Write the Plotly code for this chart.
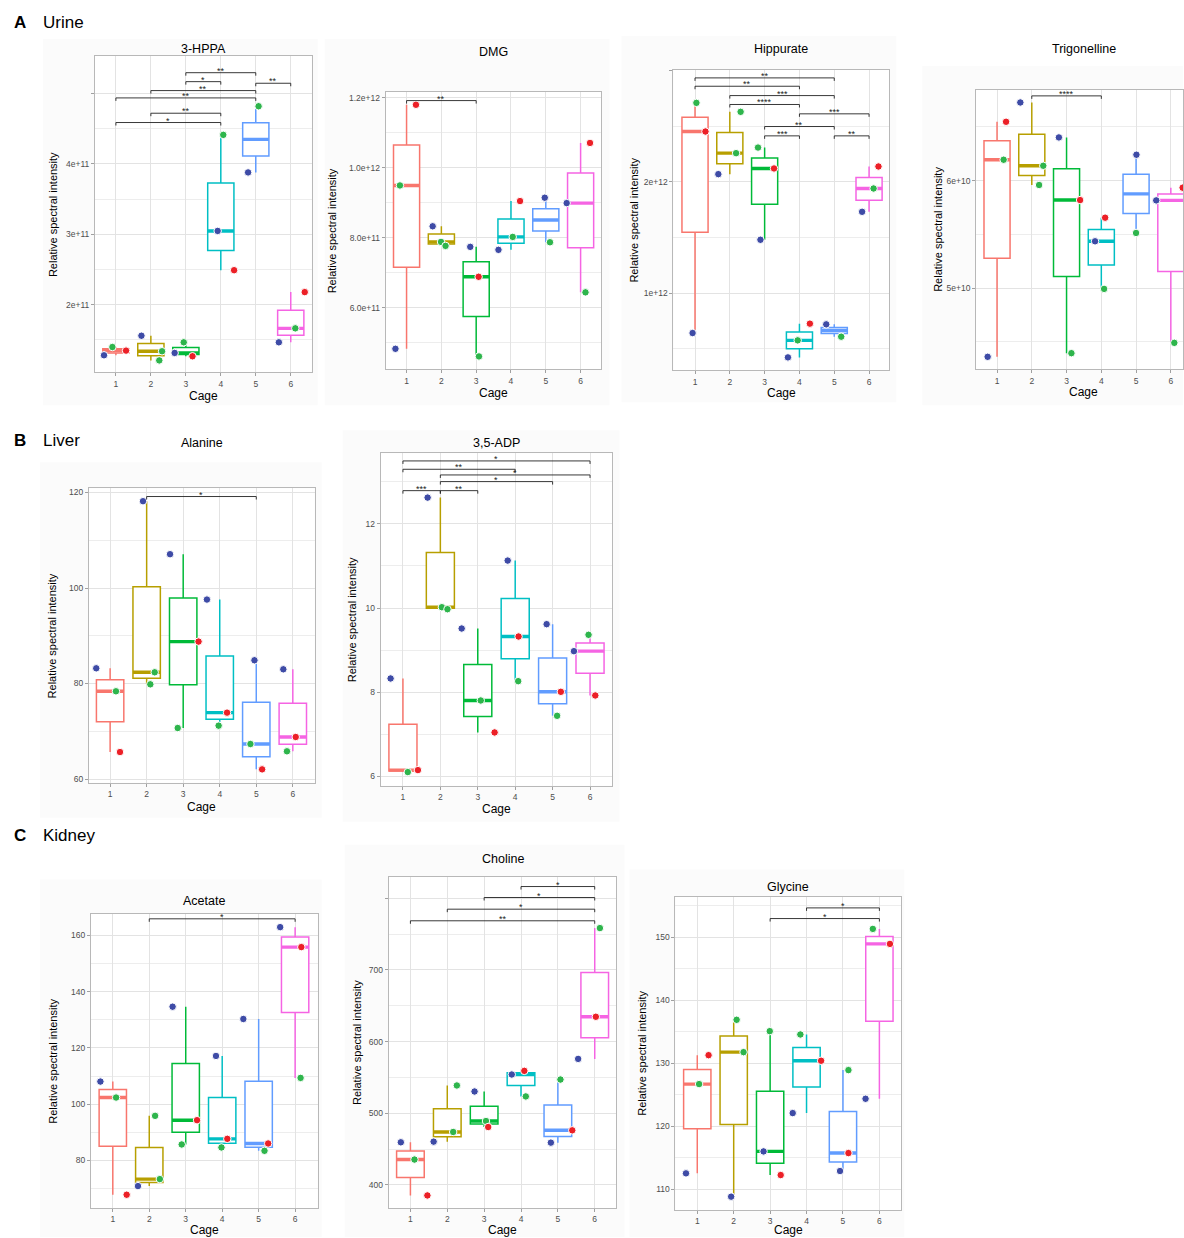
import numpy as np
import plotly.graph_objects as go

W, H = 1184, 1238
CAGES = [1, 2, 3, 4, 5, 6]
BOX_COLORS = ["#F8766D", "#B79F00", "#00BA38", "#00BFC4", "#619CFF", "#F564E3"]
POINT_COLORS = {"b": "#3E4BA6", "g": "#2EB54C", "r": "#EC2027"}

# ---------------- data ----------------
# 3-HPPA (urine)
hppa_values = [[1.283e11, 1.400e11, 1.349e11], [1.56e11, 1.34e11, 1.21e11], [1.316e11, 1.467e11, 1.269e11],
               [3.047e11, 4.41e11, 2.49e11], [3.877e11, 4.816e11], [1.467e11, 1.665e11, 2.179e11]]
hppa_groups = [["b", "g", "r"], ["b", "g", "g"], ["b", "g", "r"], ["b", "g", "r"], ["b", "g"], ["b", "g", "r"]]
hppa_jitter = [[-0.34, -0.10, 0.29], [-0.27, 0.32, 0.24], [-0.32, -0.06, 0.19], [-0.09, 0.07, 0.38], [-0.22, 0.08], [-0.34, 0.13, 0.40]]
hppa_sig = [(3, 5, "**"), (3, 4, "*"), (5, 6, "**"), (2, 5, "**"), (1, 5, "**"), (2, 4, "**"), (1, 4, "*")]
hppa_sig_y = [5.292e11, 5.165e11, 5.142e11, 5.038e11, 4.934e11, 4.717e11, 4.585e11]
hppa_ticks = [2e11, 3e11, 4e11, 5e11]
hppa_ticktext = ["2e+11", "3e+11", "4e+11", ""]
hppa_minor = [1.5e11, 2.5e11, 3.5e11, 4.5e11]

# DMG (urine)
dmg_values = [[0.4824e12, 0.9494e12, 1.180e12], [0.8327e12, 0.788e12, 0.7766e12], [0.7738e12, 0.6883e12, 0.4606e12],
              [0.7653e12, 0.8023e12, 0.9048e12], [0.9143e12, 0.787e12], [0.899e12, 0.6438e12, 1.0709e12]]
dmg_groups = [["b", "g", "r"], ["b", "g", "g"], ["b", "r", "g"], ["b", "g", "r"], ["b", "g"], ["b", "g", "r"]]
dmg_jitter = [[-0.32, -0.19, 0.27], [-0.25, -0.01, 0.12], [-0.17, 0.07, 0.08], [-0.36, 0.05, 0.26], [-0.03, 0.12], [-0.40, 0.14, 0.27]]
dmg_sig = [(1, 3, "**")]
dmg_sig_y = [1.192e12]
dmg_ticks = [6e11, 8e11, 1e12, 1.2e12]
dmg_ticktext = ["6.0e+11", "8.0e+11", "1.0e+12", "1.2e+12"]
dmg_minor = [5e11, 7e11, 9e11, 1.1e12]

# Hippurate (urine)
hip_values = [[2.7096e12, 2.452e12, 0.641e12], [2.069e12, 2.2575e12, 2.629e12], [2.308e12, 2.12e12, 1.479e12],
              [0.422e12, 0.575e12, 0.725e12], [0.719e12, 0.608e12], [1.7305e12, 1.94e12, 2.1377e12]]
hip_groups = [["g", "r", "b"], ["b", "g", "g"], ["g", "r", "b"], ["b", "g", "r"], ["b", "g"], ["b", "g", "r"]]
hip_jitter = [[0.04, 0.30, -0.07], [-0.33, 0.18, 0.31], [-0.19, 0.27, -0.12], [-0.33, -0.05, 0.30], [-0.23, 0.20], [-0.20, 0.13, 0.27]]
hip_sig = [(1, 5, "**"), (1, 4, "**"), (2, 5, "***"), (2, 4, "****"), (4, 6, "***"), (3, 5, "**"), (3, 4, "***"), (5, 6, "**")]
hip_sig_y = [2.934e12, 2.859e12, 2.775e12, 2.695e12, 2.611e12, 2.497e12, 2.413e12, 2.413e12]
hip_ticks = [1e12, 2e12, 3e12]
hip_ticktext = ["1e+12", "2e+12", ""]
hip_minor = [0.5e12, 1.5e12, 2.5e12]

# Trigonelline (urine)
tri_values = [[4.362e10, 6.195e10, 6.548e10], [6.7276e10, 6.139e10, 5.96e10], [6.4025e10, 5.82e10, 4.396e10],
              [5.4365e10, 5.656e10, 4.994e10], [6.2415e10, 5.514e10], [5.817e10, 4.492e10, 5.935e10]]
tri_groups = [["b", "g", "r"], ["b", "g", "g"], ["b", "r", "g"], ["b", "r", "g"], ["b", "g"], ["b", "g", "r"]]
tri_jitter = [[-0.27, 0.19, 0.26], [-0.33, 0.33, 0.21], [-0.22, 0.39, 0.14], [-0.18, 0.11, 0.08], [0.01, 0.0], [-0.42, 0.10, 0.34]]
tri_sig = [(2, 4, "****")]
tri_sig_y = [6.789e10]
tri_ticks = [5e10, 6e10]
tri_ticktext = ["5e+10", "6e+10"]
tri_minor = [4.5e10, 5.5e10, 6.5e10]

# Alanine (liver)
ala_values = [[83.19, 78.37, 65.65], [118.18, 82.35, 79.83], [107.08, 88.78, 70.68],
              [97.58, 73.9, 71.17], [84.87, 67.33, 62.02], [82.98, 68.8, 65.8]]
ala_groups = [["b", "g", "r"], ["b", "g", "g"], ["b", "r", "g"], ["b", "r", "g"], ["b", "g", "r"], ["b", "r", "g"]]
ala_jitter = [[-0.38, 0.16, 0.27], [-0.10, 0.22, 0.10], [-0.36, 0.42, -0.15], [-0.35, 0.20, -0.03], [-0.05, -0.16, 0.16], [-0.26, 0.08, -0.16]]
ala_sig = [(2, 5, "*")]
ala_sig_y = [119.16]
ala_ticks = [60, 80, 100, 120]
ala_ticktext = ["60", "80", "100", "120"]
ala_minor = [70, 90, 110]

# 3,5-ADP (liver)
adp_values = [[8.328, 6.104, 6.151], [12.625, 10.021, 9.974], [9.515, 7.805, 7.046],
              [11.129, 9.325, 8.264], [9.618, 8.011, 7.441], [8.977, 9.365, 7.924]]
adp_groups = [["b", "g", "r"], ["b", "g", "g"], ["b", "g", "r"], ["b", "r", "g"], ["b", "r", "g"], ["b", "g", "r"]]
adp_jitter = [[-0.33, 0.13, 0.40], [-0.34, 0.04, 0.19], [-0.43, 0.08, 0.45], [-0.20, 0.09, 0.08], [-0.16, 0.22, 0.12], [-0.43, -0.04, 0.14]]
adp_sig = [(1, 6, "*"), (1, 4, "**"), (2, 6, "*"), (2, 5, "*"), (1, 2, "***"), (2, 3, "**")]
adp_sig_y = [13.496, 13.298, 13.163, 13.005, 12.79, 12.79]
adp_ticks = [6, 8, 10, 12]
adp_ticktext = ["6", "8", "10", "12"]
adp_minor = [7, 9, 11, 13]

# Acetate (kidney)
ace_values = [[108.05, 102.37, 67.81], [70.89, 73.37, 95.86], [134.67, 94.32, 85.68],
              [117.16, 87.69, 84.62], [130.3, 86.04, 83.43], [162.96, 155.86, 109.35]]
ace_groups = [["b", "g", "r"], ["b", "g", "g"], ["b", "r", "g"], ["b", "r", "g"], ["b", "r", "g"], ["b", "r", "g"]]
ace_jitter = [[-0.34, 0.09, 0.38], [-0.31, 0.29, 0.16], [-0.36, 0.31, -0.11], [-0.17, 0.14, -0.02], [-0.42, 0.26, 0.16], [-0.41, 0.17, 0.15]]
ace_sig = [(2, 6, "*")]
ace_sig_y = [165.92]
ace_ticks = [80, 100, 120, 140, 160]
ace_ticktext = ["80", "100", "120", "140", "160"]
ace_minor = [70, 90, 110, 130, 150]

# Choline (kidney)
cho_values = [[459.4, 435.3, 385.2], [460.3, 473.8, 538.7], [530.3, 489.1, 480.7],
              [554.0, 559.1, 523.4], [458.9, 476.1, 547.0], [575.8, 634.6, 758.4]]
cho_groups = [["b", "g", "r"], ["b", "g", "g"], ["b", "g", "r"], ["b", "r", "g"], ["b", "r", "g"], ["b", "r", "g"]]
cho_jitter = [[-0.26, 0.11, 0.46], [-0.37, 0.16, 0.26], [-0.26, 0.05, 0.11], [-0.25, 0.09, 0.13], [-0.19, 0.39, 0.07], [-0.45, 0.03, 0.14]]
cho_sig = [(4, 6, "*"), (3, 6, "*"), (2, 6, "*"), (1, 6, "**")]
cho_sig_y = [816.4, 801.1, 784.8, 768.6]
cho_ticks = [400, 500, 600, 700, 800]
cho_ticktext = ["400", "500", "600", "700", ""]
cho_minor = [450, 550, 650, 750]

# Glycine (kidney)
gly_values = [[112.54, 126.7, 131.29], [108.84, 136.9, 131.77], [116.02, 135.1, 112.27],
              [122.1, 134.57, 130.4], [112.91, 115.76, 128.92], [124.37, 151.32, 148.94]]
gly_groups = [["b", "g", "r"], ["b", "g", "g"], ["b", "g", "r"], ["b", "g", "r"], ["b", "r", "g"], ["b", "g", "r"]]
gly_jitter = [[-0.31, 0.05, 0.31], [-0.07, 0.08, 0.27], [-0.18, -0.01, 0.29], [-0.38, -0.17, 0.40], [-0.08, 0.15, 0.15], [-0.38, -0.18, 0.29]]
gly_sig = [(4, 6, "*"), (3, 6, "*")]
gly_sig_y = [154.65, 152.96]
gly_ticks = [110, 120, 130, 140, 150]
gly_ticktext = ["110", "120", "130", "140", "150"]
gly_minor = [115, 125, 135, 145, 155]

# ---------------- layout of the panels (pixels) ----------------
panels = [
    dict(title="3-HPPA", v=hppa_values, g=hppa_groups, j=hppa_jitter, s=hppa_sig, sy=hppa_sig_y,
         tv=hppa_ticks, tt=hppa_ticktext, mv=hppa_minor,
         box=(95, 55, 312, 372), xr=(0.4, 6.6), yr=(1.04e11, 5.53e11), ty=48, ytx=53, xty=396, bg=(43, 38, 318, 405)),
    dict(title="DMG", v=dmg_values, g=dmg_groups, j=dmg_jitter, s=dmg_sig, sy=dmg_sig_y,
         tv=dmg_ticks, tt=dmg_ticktext, mv=dmg_minor,
         box=(386, 91, 602, 369), xr=(0.4, 6.6), yr=(4.235e11, 1.217e12), ty=51, ytx=332, xty=393, bg=(325, 38, 610, 405)),
    dict(title="Hippurate", v=hip_values, g=hip_groups, j=hip_jitter, s=hip_sig, sy=hip_sig_y,
         tv=hip_ticks, tt=hip_ticktext, mv=hip_minor,
         box=(674, 69, 890, 370), xr=(0.38, 6.58), yr=(0.305e12, 3.006e12), ty=48, ytx=635, xty=393, bg=(622, 35, 897, 402)),
    dict(title="Trigonelline", v=tri_values, g=tri_groups, j=tri_jitter, s=tri_sig, sy=tri_sig_y,
         tv=tri_ticks, tt=tri_ticktext, mv=tri_minor,
         box=(977, 89, 1184, 369), xr=(0.4, 6.35), yr=(4.245e10, 6.845e10), ty=48, ytx=938, xty=392, bg=(923, 65, 1184, 405)),
    dict(title="Alanine", v=ala_values, g=ala_groups, j=ala_jitter, s=ala_sig, sy=ala_sig_y,
         tv=ala_ticks, tt=ala_ticktext, mv=ala_minor,
         box=(89, 488, 315, 783), xr=(0.42, 6.6), yr=(59.22, 120.9), ty=443, ytx=53, xty=807, bg=(40, 462, 322, 818)),
    dict(title="3,5-ADP", v=adp_values, g=adp_groups, j=adp_jitter, s=adp_sig, sy=adp_sig_y,
         tv=adp_ticks, tt=adp_ticktext, mv=adp_minor,
         box=(381, 453, 613, 786), xr=(0.405, 6.6), yr=(5.78, 13.678), ty=443, ytx=353, xty=809, bg=(343, 430, 620, 822)),
    dict(title="Acetate", v=ace_values, g=ace_groups, j=ace_jitter, s=ace_sig, sy=ace_sig_y,
         tv=ace_ticks, tt=ace_ticktext, mv=ace_minor,
         box=(91, 914, 318, 1209), xr=(0.4, 6.62), yr=(63.08, 167.8), ty=901, ytx=53, xty=1231, bg=(40, 880, 322, 1238)),
    dict(title="Choline", v=cho_values, g=cho_groups, j=cho_jitter, s=cho_sig, sy=cho_sig_y,
         tv=cho_ticks, tt=cho_ticktext, mv=cho_minor,
         box=(389, 877, 617, 1209), xr=(0.41, 6.59), yr=(367.6, 830.3), ty=859, ytx=358, xty=1231, bg=(345, 845, 625, 1238)),
    dict(title="Glycine", v=gly_values, g=gly_groups, j=gly_jitter, s=gly_sig, sy=gly_sig_y,
         tv=gly_ticks, tt=gly_ticktext, mv=gly_minor,
         box=(676, 897, 902, 1211), xr=(0.4, 6.6), yr=(106.72, 156.45), ty=887, ytx=643, xty=1231, bg=(630, 870, 905, 1238)),
]

FONT = "Liberation Sans, Arial, sans-serif"
BOX_W = 0.75

fig = go.Figure()
layout = dict(width=W, height=H, margin=dict(l=0, r=0, t=0, b=0),
              paper_bgcolor="white", plot_bgcolor="white", showlegend=False,
              font=dict(family=FONT))
annotations = []
shapes = []

for i, p in enumerate(panels, start=1):
    xa = "x" if i == 1 else f"x{i}"
    ya = "y" if i == 1 else f"y{i}"
    L, T, R, B = p["box"]
    layout["xaxis" if i == 1 else f"xaxis{i}"] = dict(
        domain=[L / W, R / W], anchor=ya, range=list(p["xr"]),
        tickmode="array", tickvals=CAGES, ticktext=[str(c) for c in CAGES],
        showgrid=True, gridcolor="#E3E3E3", gridwidth=1, zeroline=False,
        showline=True, mirror=True, linecolor="#B8B8B8", linewidth=1,
        ticks="outside", ticklen=3, tickcolor="#A0A0A0", tickwidth=1,
        tickfont=dict(size=8.5, color="#4D4D4D", family=FONT))
    layout["yaxis" if i == 1 else f"yaxis{i}"] = dict(
        domain=[1 - B / H, 1 - T / H], anchor=xa, range=list(p["yr"]),
        tickmode="array", tickvals=p["tv"], ticktext=p["tt"],
        showgrid=True, gridcolor="#E3E3E3", gridwidth=1, zeroline=False,
        minor=dict(tickmode="array", tickvals=p["mv"], showgrid=True, gridcolor="#EDEDED", gridwidth=0.6, ticks=""),
        showline=True, mirror=True, linecolor="#B8B8B8", linewidth=1,
        ticks="outside", ticklen=3, tickcolor="#A0A0A0", tickwidth=1,
        tickfont=dict(size=8.5, color="#4D4D4D", family=FONT))

    # faint background of each sub-image, with a white plotting area on top
    bx0, by0, bx1, by1 = p["bg"]
    shapes.append(dict(type="rect", xref="paper", yref="paper", layer="below",
                       x0=bx0 / W, x1=bx1 / W, y0=1 - by1 / H, y1=1 - by0 / H,
                       fillcolor="#FBFBFB", line=dict(width=0)))
    shapes.append(dict(type="rect", xref="paper", yref="paper", layer="below",
                       x0=L / W, x1=R / W, y0=1 - B / H, y1=1 - T / H,
                       fillcolor="white", line=dict(width=0)))

    # boxes
    for c, vals, col in zip(CAGES, p["v"], BOX_COLORS):
        arr = np.array(vals, dtype=float)
        q1, med, q3 = np.percentile(arr, [25, 50, 75])
        iqr = q3 - q1
        lo = arr[arr >= q1 - 1.5 * iqr].min()
        hi = arr[arr <= q3 + 1.5 * iqr].max()
        fig.add_trace(go.Box(x=[c], q1=[q1], median=[med], q3=[q3], lowerfence=[lo], upperfence=[hi],
                             width=BOX_W, whiskerwidth=0, boxpoints=False,
                             line=dict(color=col, width=1.5), fillcolor="white",
                             xaxis=xa, yaxis=ya, hoverinfo="skip"))
        fig.add_trace(go.Scatter(x=[c - BOX_W / 2, c + BOX_W / 2], y=[med, med], mode="lines",
                                 line=dict(color=col, width=3.4), xaxis=xa, yaxis=ya, hoverinfo="skip"))

    # points
    px, py, pc = [], [], []
    for c, vals, grps, jit in zip(CAGES, p["v"], p["g"], p["j"]):
        for v, gk, jj in zip(vals, grps, jit):
            px.append(c + jj)
            py.append(v)
            pc.append(POINT_COLORS[gk])
    fig.add_trace(go.Scatter(x=px, y=py, mode="markers",
                             marker=dict(color=pc, size=7.5, line=dict(color="white", width=1)),
                             xaxis=xa, yaxis=ya, hoverinfo="skip"))

    # significance brackets
    span = p["yr"][1] - p["yr"][0]
    tip = 3.0 / (B - T) * span
    bx, by = [], []
    for (a, b, lab), yv in zip(p["s"], p["sy"]):
        bx += [a, a, b, b, None]
        by += [yv - tip, yv, yv, yv - tip, None]
        annotations.append(dict(x=(a + b) / 2, y=yv, xref=xa, yref=ya, text=lab, showarrow=False,
                                yanchor="bottom", yshift=-5, font=dict(size=9, color="#222", family=FONT)))
    if bx:
        fig.add_trace(go.Scatter(x=bx, y=by, mode="lines", line=dict(color="#222", width=0.9),
                                 xaxis=xa, yaxis=ya, hoverinfo="skip"))

    # titles
    cx = (L + R) / 2 / W if i != 4 else (L + 1192) / 2 / W
    annotations.append(dict(x=cx, y=1 - p["ty"] / H,
                            xref="paper", yref="paper", text=p["title"], showarrow=False,
                            xanchor="center", yanchor="middle", font=dict(size=12.5, color="black", family=FONT)))
    annotations.append(dict(x=p["ytx"] / W, y=1 - (T + B) / 2 / H, xref="paper", yref="paper",
                            text="Relative spectral intensity", textangle=-90, showarrow=False,
                            xanchor="center", yanchor="middle", font=dict(size=11, color="black", family=FONT)))
    annotations.append(dict(x=cx, y=1 - p["xty"] / H,
                            xref="paper", yref="paper", text="Cage", showarrow=False,
                            xanchor="center", yanchor="middle", font=dict(size=12, color="black", family=FONT)))

# section labels
for letter, name, yy in [("A", "Urine", 22), ("B", "Liver", 440), ("C", "Kidney", 836)]:
    annotations.append(dict(x=12 / W, y=1 - yy / H, xref="paper", yref="paper", text=f"<b>{letter}</b>",
                            showarrow=False, xanchor="left", yanchor="middle",
                            font=dict(size=17, color="black", family=FONT)))
    annotations.append(dict(x=41 / W, y=1 - yy / H, xref="paper", yref="paper", text=name,
                            showarrow=False, xanchor="left", yanchor="middle",
                            font=dict(size=17, color="black", family=FONT)))

layout["annotations"] = annotations
layout["shapes"] = shapes
fig.update_layout(**layout)
fig.write_html("out.html", config={"displayModeBar": False},
               post_script="document.body.style.margin='0px';document.body.style.overflow='hidden';")
